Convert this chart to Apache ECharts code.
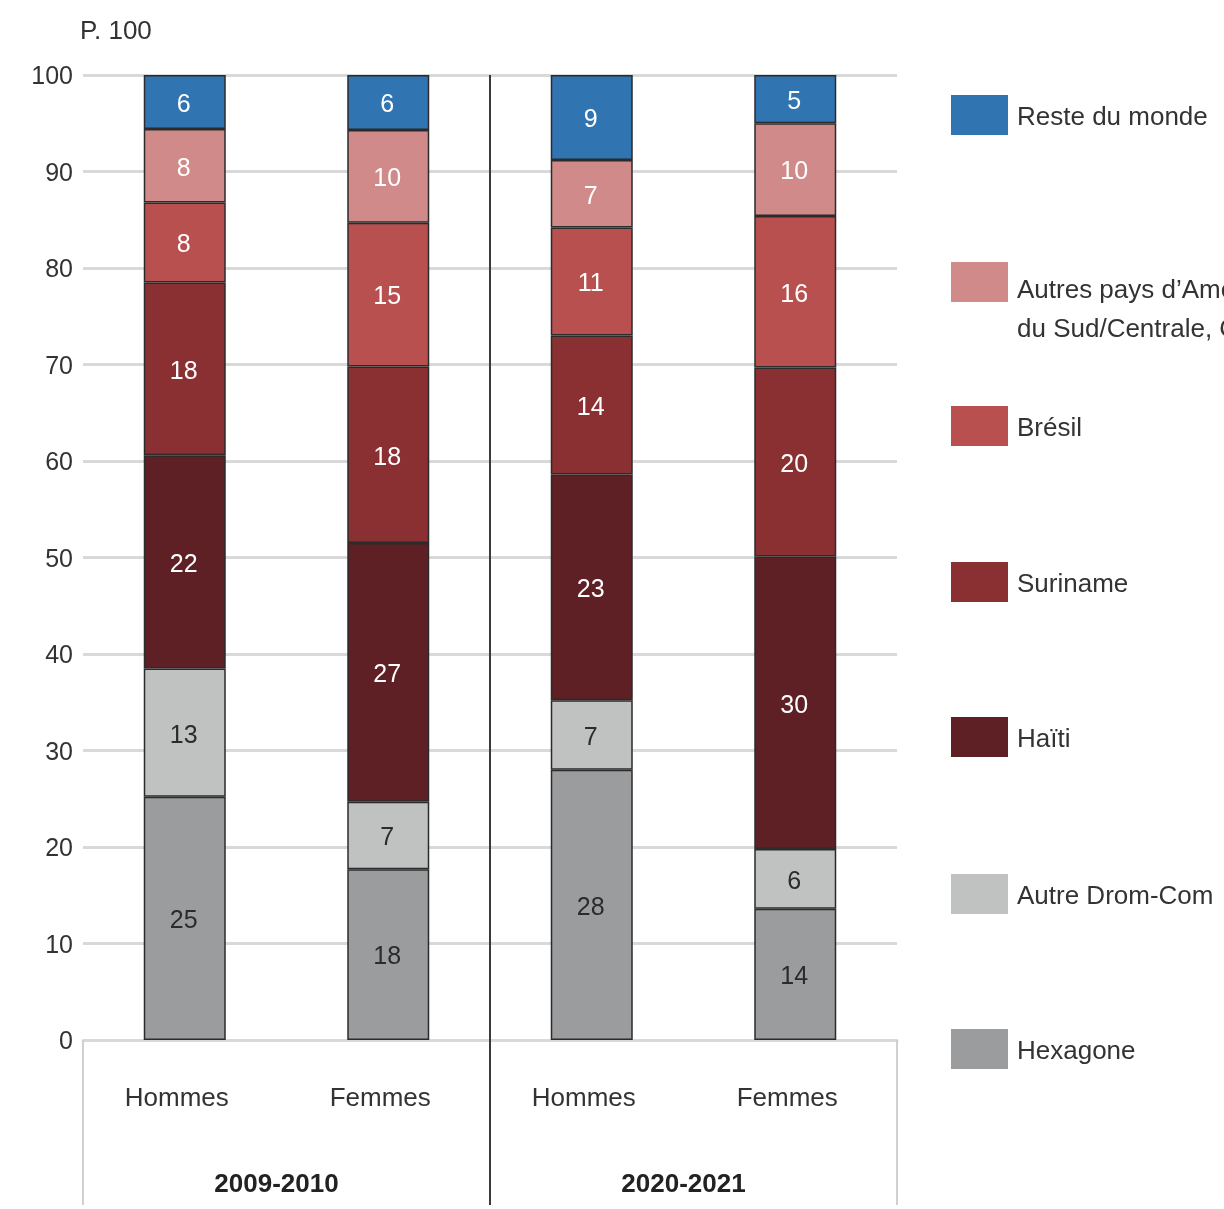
<!DOCTYPE html>
<html>
<head>
<meta charset="utf-8">
<script src="https://cdn.jsdelivr.net/npm/echarts@6/dist/echarts.min.js"></script>
<style>
html,body{margin:0;padding:0;background:#fff;}
#c{width:1224px;height:1209px;}
</style>
</head>
<body>
<div id="c"></div>
<script>
const categories = ['Hommes', 'Femmes', 'Hommes', 'Femmes'];
const groups = ['2009-2010', '2020-2021'];
const yTicks = [0, 10, 20, 30, 40, 50, 60, 70, 80, 90, 100];
const seriesNames = ['Hexagone', 'Autre Drom-Com', 'Haïti', 'Suriname', 'Brésil', 'Autres pays d’Amérique\ndu Sud/Centrale, Caraïbes', 'Reste du monde'];
const hexagone      = [25.2, 17.7, 28.0, 13.6];
const autreDromCom  = [13.3, 7.0, 7.2, 6.2];
const haiti         = [22.1, 26.8, 23.4, 30.3];
const suriname      = [17.9, 18.3, 14.4, 19.6];
const bresil        = [8.3, 14.9, 11.2, 15.7];
const autresPays    = [7.6, 9.6, 7.0, 9.6];
const resteDuMonde  = [5.6, 5.7, 8.8, 5.0];
const seriesValues = [hexagone, autreDromCom, haiti, suriname, bresil, autresPays, resteDuMonde];
const colors = ['#9b9c9e', '#c0c1c1', '#5e1f25', '#8a3033', '#b95050', '#d08a8a', '#3075b2'];
const labelColors = ['#2b2b2b', '#2b2b2b', '#fff', '#fff', '#fff', '#fff', '#fff'];

const FONT = '"Liberation Sans", Arial, sans-serif';
const GL = 83, GR = 897, GT = 75, GB = 1040;

const chart = echarts.init(document.getElementById('c'), null, {renderer: 'canvas'});

const series = seriesValues.map((vals, i) => ({
  name: seriesNames[i],
  type: 'bar',
  stack: 'total',
  barWidth: 82,
  data: vals,
  itemStyle: {color: colors[i], borderColor: '#2b2b2b', borderWidth: 1.5},
  label: {
    show: true,
    position: 'inside',
    offset: [-1, 3],
    formatter: p => Math.round(p.value),
    color: labelColors[i],
    fontSize: 25,
    fontFamily: FONT
  },
  emphasis: {disabled: true}
}));

// legend positions (top of square)
const legendTops = [1029, 874, 717, 562, 406, 262, 95];
const legends = seriesNames.map((n, i) => {
  const multi = n.indexOf('\n') >= 0;
  return {
    data: [n],
    left: 951,
    top: multi ? legendTops[i] - 24 : legendTops[i],
    orient: 'vertical',
    padding: 0,
    itemWidth: 57,
    itemHeight: 40,
    icon: 'rect',
    selectedMode: false,
    itemStyle: {borderWidth: 0},
    formatter: name => (multi ? '{s| }\n' : '') + name.split('\n').map(l => '{t|' + l + '}').join('\n'),
    textStyle: {
      fontSize: 26, color: '#333', fontFamily: FONT,
      rich: {
        t: {fontSize: 26, color: '#333', fontFamily: FONT, lineHeight: 39, padding: [6, 0, 0, 4]},
        s: {fontSize: 10, lineHeight: 50}
      }
    }
  };
});

const option = {
  backgroundColor: '#fff',
  animation: false,
  legend: legends,
  grid: {left: GL, right: 1224 - GR, top: GT, bottom: 1209 - GB},
  xAxis: [
    {
      type: 'category',
      data: categories,
      axisLine: {show: true, lineStyle: {color: '#d9d9d9', width: 3}},
      axisTick: {show: false},
      axisLabel: {
        margin: 46,
        formatter: v => '{c|' + v + '}',
        rich: {c: {fontSize: 26, color: '#333', fontFamily: FONT, padding: [0, 16, 0, 0]}}
      }
    },
    {
      type: 'category',
      data: groups,
      position: 'bottom',
      axisLine: {show: false},
      axisTick: {show: true, length: 165, lineStyle: {color: '#d0d0d0', width: 2}},
      axisLabel: {
        margin: 132,
        formatter: v => '{g|' + v + '}',
        rich: {g: {fontSize: 26, color: '#222', fontWeight: 'bold', fontFamily: FONT, padding: [0, 20, 0, 0]}}
      }
    }
  ],
  yAxis: {
    type: 'value',
    min: yTicks[0],
    max: yTicks[yTicks.length - 1],
    interval: 10,
    axisLine: {show: false},
    axisTick: {show: false},
    axisLabel: {
      margin: 10,
      formatter: v => '{v|' + v + '}',
      rich: {v: {fontSize: 25, color: '#333', fontFamily: FONT, padding: [5, 0, 0, 0]}}
    },
    splitLine: {lineStyle: {color: '#d9d9d9', width: 3}}
  },
  graphic: [
    {type: 'text', left: 80, top: 19, style: {text: 'P. 100', fontSize: 26, fill: '#333', fontFamily: FONT}},
    {type: 'line', shape: {x1: (GL + GR) / 2, y1: GT, x2: (GL + GR) / 2, y2: 1205}, style: {stroke: '#3a3a3a', lineWidth: 2}, z: 100}
  ],
  series: series
};
chart.setOption(option);
</script>
</body>
</html>
